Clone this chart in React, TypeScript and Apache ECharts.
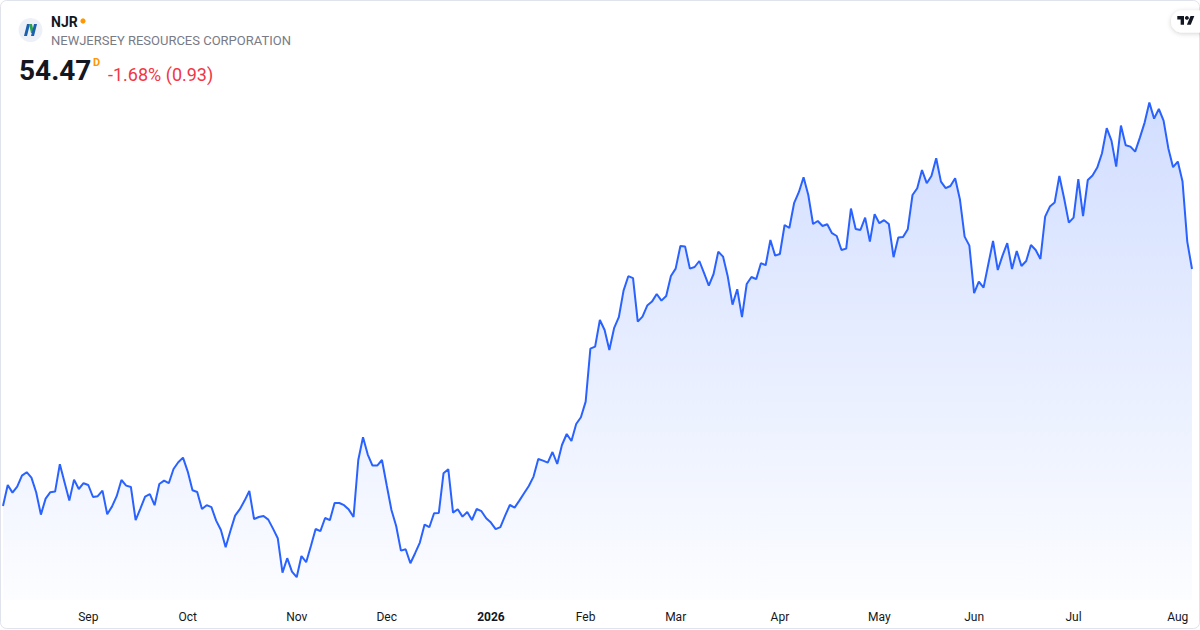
import React, { useEffect, useRef } from "react";
import * as echarts from "echarts";

const ticker = "NJR";
const company = "NEWJERSEY RESOURCES CORPORATION";
const lastPrice = "54.47";
const changeText = "-1.68% (0.93)";
const intervalTag = "D";

const firstDay = "2025-08-06";
const lastDay = "2026-08-06";
const holidays = [
  "2025-09-01", "2025-11-27", "2025-12-25", "2026-01-01", "2026-01-19",
  "2026-02-16", "2026-04-03", "2026-05-25", "2026-06-19", "2026-07-03",
];
const monthNames = ["Jan", "Feb", "Mar", "Apr", "May", "Jun", "Jul", "Aug", "Sep", "Oct", "Nov", "Dec"];

const prices = [
  42.62, 43.67, 43.29, 43.59, 44.14, 44.31, 44.04, 43.31, 42.19, 42.99,
  43.31, 43.34, 44.71, 43.79, 42.89, 43.94, 43.47, 43.76, 43.67, 43.07,
  43.11, 43.39, 42.21, 42.59, 43.11, 43.92, 43.64, 43.57, 41.91, 42.49,
  43.09, 43.21, 42.66, 43.72, 43.89, 43.76, 44.47, 44.81, 45.04, 44.34,
  43.41, 43.32, 42.47, 42.66, 42.56, 41.89, 41.42, 40.56, 41.37, 42.14,
  42.46, 42.89, 43.37, 41.97, 42.07, 42.12, 41.94, 41.49, 41.01, 39.29,
  40.01, 39.34, 39.06, 40.12, 39.81, 40.62, 41.47, 41.36, 42.02, 41.91,
  42.77, 42.77, 42.66, 42.44, 42.07, 44.92, 46.06, 45.19, 44.64, 44.64,
  44.92, 43.66, 42.42, 41.62, 40.39, 40.46, 39.76, 40.26, 40.79, 41.69,
  41.56, 42.26, 42.27, 44.26, 44.46, 42.29, 42.46, 42.09, 42.32, 41.92,
  42.47, 42.36, 42.01, 41.79, 41.46, 41.56, 42.14, 42.67, 42.54, 42.89,
  43.26, 43.62, 44.09, 44.97, 44.89, 44.79, 45.32, 44.72, 45.67, 46.22,
  45.87, 46.72, 47.06, 47.84, 50.49, 50.59, 51.92, 51.42, 50.42, 51.51,
  52.06, 53.39, 54.11, 54.01, 51.84, 52.09, 52.64, 52.84, 53.22, 52.89,
  53.12, 54.12, 54.49, 55.62, 55.59, 54.49, 54.57, 54.87, 54.26, 53.64,
  54.22, 55.34, 55.09, 54.09, 52.69, 53.46, 52.06, 53.72, 54.07, 53.96,
  54.76, 54.66, 55.92, 55.14, 55.22, 56.67, 56.52, 57.76, 58.31, 59.06,
  58.17, 56.72, 56.87, 56.62, 56.71, 56.26, 56.12, 55.42, 55.49, 57.49,
  56.47, 56.42, 57.04, 55.84, 57.21, 56.76, 56.91, 56.72, 55.06, 56.04,
  56.07, 56.46, 58.17, 58.51, 59.42, 58.76, 59.12, 60.01, 58.84, 58.51,
  58.62, 59.01, 57.96, 56.09, 55.64, 53.26, 53.84, 53.54, 54.71, 55.87,
  54.42, 55.14, 55.76, 54.47, 55.37, 54.62, 54.87, 55.67, 55.42, 54.97,
  57.09, 57.59, 57.79, 59.12, 58.01, 56.79, 57.04, 58.96, 57.12, 58.92,
  59.14, 59.54, 60.26, 61.51, 60.89, 59.59, 61.64, 60.66, 60.59, 60.34,
  61.04, 61.79, 62.79, 61.99, 62.47, 61.89, 60.51, 59.56, 59.84, 58.84,
  55.84, 54.47,
];

const yMin = 37.92;
const yMax = 67.92;

const TV_PATH = "M14 22H7V11H0V4h14v18zM28 22h-8l7.5-18h8L28 22z";
let registered = false;

function tradingDays(): string[] {
  const out: string[] = [];
  const d = new Date(firstDay + "T00:00:00Z");
  const end = new Date(lastDay + "T00:00:00Z");
  while (d.getTime() <= end.getTime()) {
    const wd = d.getUTCDay();
    const s = d.toISOString().slice(0, 10);
    if (wd !== 0 && wd !== 6 && holidays.indexOf(s) < 0) out.push(s);
    d.setUTCDate(d.getUTCDate() + 1);
  }
  return out;
}

const FONT = "Roboto, 'Noto Sans', sans-serif";

export default function App() {
  const ref = useRef<HTMLDivElement>(null);
  useEffect(() => {
    document.body.style.margin = "0";
    if (!registered) {
      echarts.graphic.registerShape("tvlogo", echarts.graphic.extendPath(TV_PATH, {}) as any);
      registered = true;
    }
    const chart = echarts.init(ref.current!, null, { renderer: "svg" });
    const dates = tradingDays();
    const isMonthStart = (i: number) =>
      i > 0 && !!dates[i] && !!dates[i - 1] && dates[i].slice(5, 7) !== dates[i - 1].slice(5, 7);

    chart.setOption({
      animation: false,
      backgroundColor: "#ffffff",
      grid: { left: 3, right: 8, top: 0, bottom: 30, containLabel: false },
      xAxis: {
        type: "category",
        data: dates,
        boundaryGap: false,
        axisLine: { show: false },
        axisTick: { show: false },
        splitLine: { show: false },
        axisLabel: {
          interval: (i: number) => isMonthStart(i),
          margin: 11,
          fontFamily: FONT,
          fontSize: 12,
          color: "#131722",
          formatter: (v: string) => {
            const m = parseInt(v.slice(5, 7), 10);
            if (m === 1) return "{y|" + v.slice(0, 4) + "}";
            return monthNames[m - 1];
          },
          rich: { y: { fontWeight: "bold", fontFamily: FONT, fontSize: 12, color: "#131722" } },
        },
      },
      yAxis: {
        type: "value",
        min: yMin,
        max: yMax,
        show: false,
        splitLine: { show: false },
      },
      series: [
        {
          type: "line",
          data: prices,
          symbol: "none",
          lineStyle: { color: "#2962ff", width: 2 },
          areaStyle: {
            color: new echarts.graphic.LinearGradient(0, 0, 0, 1, [
              { offset: 0, color: "rgba(41,98,255,0.30)" },
              { offset: 1, color: "rgba(41,98,255,0.02)" },
            ]),
          },
        },
      ],
      graphic: [
        {
          type: "rect",
          z: 100,
          silent: true,
          shape: { x: 0.5, y: 0.5, width: 1199, height: 628, r: 6 },
          style: { fill: "none", stroke: "#e0e3eb", lineWidth: 1 },
        },
        {
          type: "circle",
          z: 100,
          shape: { cx: 30.5, cy: 30, r: 12 },
          style: { fill: "#edf1f7" },
        },
        {
          type: "polygon",
          z: 101,
          shape: { points: [[24, 36], [27, 24], [30, 24], [27, 36]] },
          style: { fill: "#1b5fae" },
        },
        {
          type: "polygon",
          z: 101,
          shape: { points: [[29, 24], [32, 24], [34, 33], [31, 33]] },
          style: { fill: "#2ba24c" },
        },
        {
          type: "polygon",
          z: 101,
          shape: { points: [[34, 24], [37, 24], [34, 36], [31, 36]] },
          style: { fill: "#1b5fae" },
        },
        {
          type: "text",
          z: 101,
          style: {
            text: ticker, x: 51, y: 21.5, fill: "#131722",
            font: "bold 14px " + FONT, textVerticalAlign: "middle",
          },
        },
        {
          type: "circle",
          z: 101,
          shape: { cx: 83, cy: 21, r: 2.6 },
          style: { fill: "#ff9800" },
        },
        {
          type: "text",
          z: 101,
          style: {
            text: company, x: 51, y: 40.5, fill: "#787b86",
            font: "13px " + FONT, textVerticalAlign: "middle",
          },
        },
        {
          type: "text",
          z: 101,
          style: {
            text: lastPrice, x: 19, y: 70, fill: "#131722",
            font: "bold 28px " + FONT, textVerticalAlign: "middle",
          },
        },
        {
          type: "text",
          z: 101,
          style: {
            text: intervalTag, x: 93, y: 62, fill: "#ff9800",
            font: "bold 11px " + FONT, textVerticalAlign: "middle",
          },
        },
        {
          type: "text",
          z: 101,
          style: {
            text: changeText, x: 108, y: 74.5, fill: "#f23645",
            font: "18px " + FONT, textVerticalAlign: "middle",
          },
        },
        {
          type: "rect",
          z: 101,
          shape: { x: 1171, y: 10.5, width: 44, height: 22, r: 11 },
          style: { fill: "#ffffff", shadowBlur: 5, shadowColor: "rgba(0,0,0,0.18)", shadowOffsetY: 1 },
        },
        {
          type: "tvlogo",
          z: 102,
          x: 1177.3,
          y: 14.1,
          scaleX: 0.48,
          scaleY: 0.48,
          style: { fill: "#131722" },
        },
        {
          type: "circle",
          z: 102,
          shape: { cx: 1186.9, cy: 17.9, r: 1.95 },
          style: { fill: "#131722" },
        },
      ],
    });
    return () => chart.dispose();
  }, []);
  return <div ref={ref} style={{ width: 1200, height: 630 }} />;
}
